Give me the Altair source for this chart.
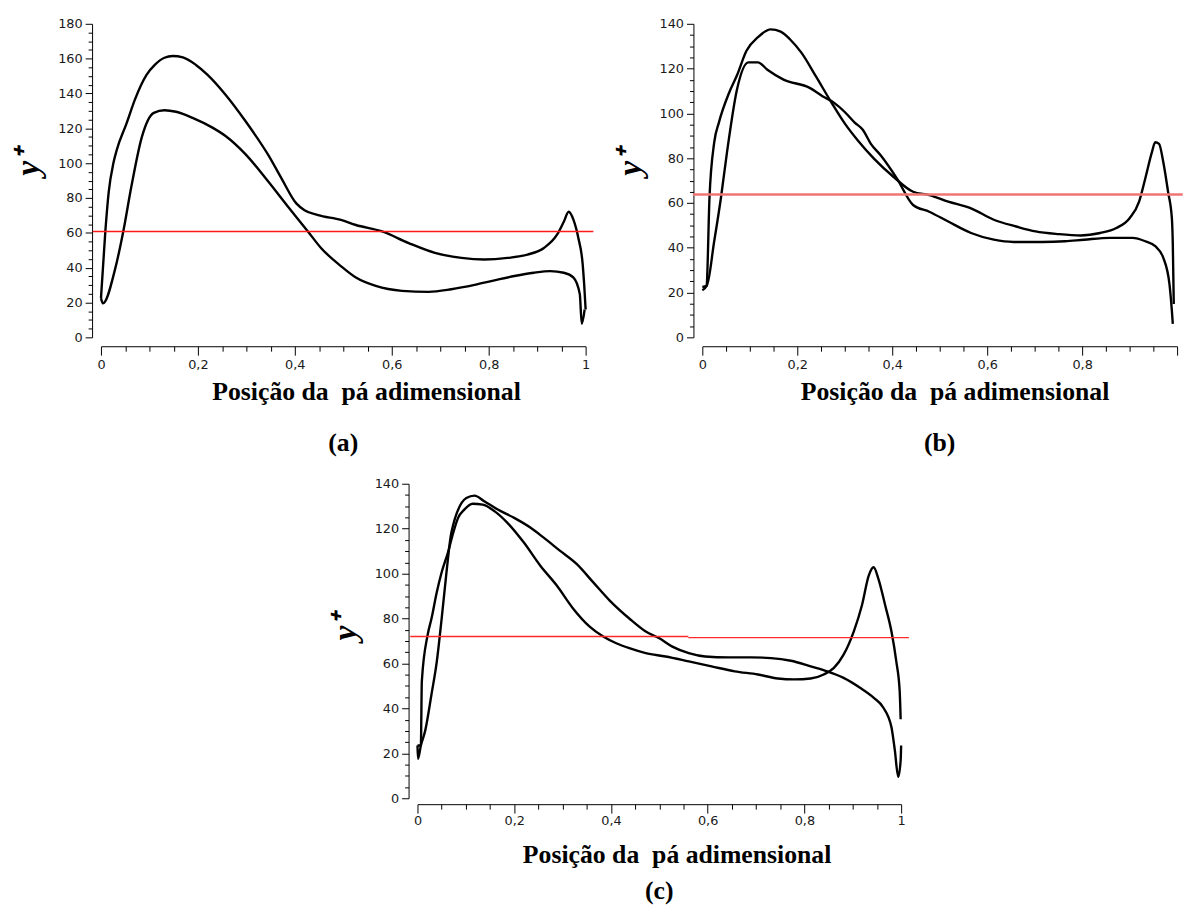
import altair as alt
import pandas as pd

# ---------------- panel (a) ----------------
a_s1_x = [0.000, 0.009, 0.016, 0.026, 0.033, 0.053, 0.070, 0.094, 0.111, 0.131,
          0.148, 0.169, 0.196, 0.220, 0.257, 0.298, 0.346, 0.373, 0.403, 0.420,
          0.448, 0.495, 0.526, 0.580, 0.635, 0.689, 0.744, 0.791, 0.839, 0.880,
          0.914, 0.941, 0.955, 0.965, 0.975, 0.985, 0.994, 0.997, 1.000]
a_s1_y = [22.5, 60.8, 83.5, 100.5, 108, 123, 136.5, 150.7, 156.4, 160.5,
          161.5, 160.7, 156.4, 150.7, 139.3, 124.2, 104.3, 91, 76.9, 73,
          70.2, 67.4, 64.5, 60.8, 54.1, 48.5, 45.6, 44.7, 45.6, 47.5,
          51.3, 58.9, 66.4, 72.1, 67.4, 57, 41.8, 30.5, 16]
a_s2_x = [0.000, 0.004, 0.029, 0.046, 0.063, 0.084, 0.109, 0.131, 0.155, 0.189,
          0.230, 0.257, 0.298, 0.346, 0.386, 0.427, 0.454, 0.495, 0.526, 0.567,
          0.621, 0.676, 0.723, 0.771, 0.812, 0.853, 0.893, 0.927, 0.955, 0.975,
          0.988, 0.992, 0.998]
a_s2_y = [22.5, 19.5, 39, 60.8, 87, 114.7, 128.9, 130.4, 129.5, 126,
          120.4, 115.6, 105.2, 89.2, 75, 60.8, 51.3, 40.9, 34.3, 29.5,
          26.7, 26.1, 27.6, 30.1, 32.7, 35.2, 37.1, 38, 37.1, 34.3,
          24.8, 7.8, 16]
a_red_x0 = [-0.017]
a_red_x1 = [1.016]
a_red_y = [60.8]

# ---------------- panel (b) ----------------
b_s1_x = [0.000, 0.009, 0.015, 0.025, 0.035, 0.056, 0.073, 0.093, 0.117, 0.144,
          0.165, 0.185, 0.209, 0.239, 0.273, 0.301, 0.328, 0.362, 0.403, 0.444,
          0.478, 0.518, 0.566, 0.614, 0.661, 0.702, 0.750, 0.797, 0.838, 0.872,
          0.900, 0.920, 0.933, 0.947, 0.954, 0.962, 0.971, 0.981, 0.989, 0.991,
          0.993]
b_s1_y = [21, 23, 62, 87, 96, 109, 117, 128, 134, 137.5,
          136.5, 133, 127, 116.6, 104.5, 95.2, 87.8, 79.7, 71.6, 65,
          63.5, 60.6, 57.6, 52.5, 49.5, 47.3, 46.1, 45.5, 46.6, 48.8,
          53.2, 60.6, 70.9, 82.7, 87.1, 86.4, 78.2, 65, 53.2, 41.4,
          14.9]
b_s2_x = [0.000, 0.009, 0.025, 0.039, 0.052, 0.073, 0.097, 0.117, 0.137, 0.171,
          0.226, 0.253, 0.277, 0.301, 0.321, 0.338, 0.355, 0.376, 0.410, 0.444,
          0.478, 0.518, 0.566, 0.614, 0.655, 0.716, 0.764, 0.804, 0.859, 0.906,
          0.933, 0.954, 0.971, 0.984, 0.989, 0.991]
b_s2_y = [22.5, 23, 42.9, 62, 82.7, 110.7, 122.8, 122.8, 119.5, 115.1,
          111.4, 107.7, 104.8, 100.4, 95.9, 92.7, 86.4, 81.2, 70.9, 59.1,
          56.1, 51.7, 46.6, 43.6, 42.6, 42.6, 42.9, 43.6, 44.4, 44.4,
          42.9, 40.7, 35.5, 23.7, 11.9, 6]
b_red_x0 = [-0.02]
b_red_x1 = [1.012]
b_red_y = [63.8]

# ---------------- panel (c) ----------------
c_s1_x = [0.000, 0.001, 0.007, 0.016, 0.029, 0.040, 0.050, 0.060, 0.070, 0.101,
          0.118, 0.138, 0.166, 0.200, 0.234, 0.261, 0.295, 0.329, 0.363, 0.397,
          0.438, 0.472, 0.500, 0.527, 0.561, 0.595, 0.643, 0.690, 0.731, 0.772,
          0.813, 0.847, 0.881, 0.915, 0.943, 0.963, 0.980, 0.987, 0.994, 0.999,
          1.000]
c_s1_y = [23.5, 17.6, 23.5, 30.1, 46.3, 60.9, 80, 100.6, 118.2, 133.6,
          134.7, 132.2, 128.5, 124.8, 120.4, 116, 110.1, 104.3, 96.2, 88.1,
          80, 74.2, 71.2, 67.5, 64.6, 63.1, 62.7, 62.7, 62.4, 61.2,
          58.7, 56.5, 53.6, 49.2, 44.8, 40.4, 31.6, 21.3, 9.5, 16.9,
          23.5]
c_s2_x = [0.000, 0.007, 0.009, 0.021, 0.029, 0.040, 0.050, 0.063, 0.074, 0.084,
          0.097, 0.114, 0.135, 0.159, 0.186, 0.220, 0.254, 0.288, 0.322, 0.356,
          0.384, 0.411, 0.438, 0.472, 0.513, 0.561, 0.608, 0.656, 0.704, 0.745,
          0.779, 0.813, 0.840, 0.861, 0.881, 0.902, 0.919, 0.933, 0.943, 0.953,
          0.967, 0.980, 0.990, 0.997, 0.999]
c_s2_y = [23.5, 23.5, 52.1, 72.7, 80, 91.8, 100.6, 109.4, 118.2, 124.8,
          128.5, 131.1, 130.7, 127.8, 122.6, 113.8, 103.5, 94.7, 84.4, 76.4,
          72, 69, 66.8, 64.6, 63.1, 60.9, 58.7, 56.5, 55.1, 53.3,
          52.9, 53.3, 55.1, 58, 63.9, 74.2, 85.9, 99.1, 102.8, 97.7,
          85.9, 74.2, 60.9, 47.7, 35.2]
c_red_x0 = [-0.015, 0.56]
c_red_x1 = [0.56, 1.016]
c_red_y = [72.0, 71.5]

X_TITLE = "Posição da\u00a0 pá adimensional"
Y_TITLE = "y\u207a"
TXT = "#1a1a1a"


def panel(s1x, s1y, s2x, s2y, rx0, rx1, ry, ymax, w, h, label, title_x, ytitle_y,
          label_offset, x_off, lab_pad, tit_pad, red_color, red_width, hide_last=False):
    rows = []
    for name, xs, ys in (("s1", s1x, s1y), ("s2", s2x, s2y)):
        for i, (xv, yv) in enumerate(zip(xs, ys)):
            rows.append({"s": name, "i": i, "x": xv, "y": yv})
    df = pd.DataFrame(rows)
    red = pd.DataFrame({"x": rx0, "x1": rx1, "y": ry})

    xvals = [round(k * 0.05, 2) for k in range(21)]
    yvals = list(range(0, ymax + 1, 5))
    major_x = "abs(datum.value*5 - round(datum.value*5)) < 0.001"
    if hide_last:
        lab_x = f"({major_x}) && datum.value < 0.99 ? replace(format(datum.value, '.1~f'), '.', ',') : ''"
    else:
        lab_x = f"({major_x}) ? replace(format(datum.value, '.1~f'), '.', ',') : ''"

    xscale = alt.Scale(domain=[0, 1], nice=False, zero=False)
    yscale = alt.Scale(domain=[0, ymax], nice=False)

    xaxis = alt.Axis(values=xvals, labelExpr=lab_x,
                     tickSize={"condition": {"test": major_x, "value": 9}, "value": 5},
                     offset=x_off, labelPadding=lab_pad, labelFlush=False, labelOverlap=False,
                     grid=False, domainColor="black", tickColor="black",
                     labelColor=TXT, labelFont="DejaVu Sans", labelFontSize=13,
                     title=X_TITLE, titleFont="Liberation Serif", titleFontSize=26,
                     titleFontWeight="bold", titleColor="black", titlePadding=tit_pad,
                     titleX=title_x)
    yaxis = alt.Axis(values=yvals, labelExpr="datum.value % 20 === 0 ? datum.label : ''",
                     tickSize={"condition": {"test": "datum.value % 20 === 0", "value": 7}, "value": 4},
                     offset=9, labelPadding=3, labelOverlap=False,
                     grid=False, domainColor="black", tickColor="black",
                     labelColor=TXT, labelFont="DejaVu Sans", labelFontSize=13,
                     title=Y_TITLE, titleFont="Liberation Serif", titleFontSize=34,
                     titleFontStyle="italic", titleFontWeight="bold", titleColor="black",
                     titleAngle=270, titlePadding=12, titleY=ytitle_y)

    lines = alt.Chart(df).mark_line(color="black", strokeWidth=2.4,
                                    interpolate="monotone").encode(
        x=alt.X("x:Q", scale=xscale, axis=xaxis),
        y=alt.Y("y:Q", scale=yscale, axis=yaxis),
        detail="s:N",
        order="i:Q",
    )
    rule = alt.Chart(red).mark_rule(color=red_color, strokeWidth=red_width, clip=False).encode(
        x=alt.X("x:Q", scale=xscale, axis=xaxis),
        x2="x1:Q",
        y=alt.Y("y:Q", scale=yscale, axis=yaxis),
    )
    return alt.layer(lines, rule).properties(
        width=w, height=h,
        title=alt.TitleParams(label, orient="bottom", font="Liberation Serif", fontSize=26,
                              fontWeight="bold", color="black", offset=label_offset,
                              anchor="middle", frame="group"),
    )


pa = panel(a_s1_x, a_s1_y, a_s2_x, a_s2_y, a_red_x0, a_red_x1, a_red_y, 180, 490, 317,
           "(a)", 268, 140, 26, 9, 4, 7, "#ff1a1a", 1.4)
pb = panel(b_s1_x, b_s1_y, b_s2_x, b_s2_y, b_red_x0, b_red_x1, b_red_y, 140, 480, 317,
           "(b)", 255, 140, 26, 9, 4, 7, "#f07474", 2.4, hide_last=True)
pc = panel(c_s1_x, c_s1_y, c_s2_x, c_s2_y, c_red_x0, c_red_x1, c_red_y, 140, 489, 318,
           "(c)", 262, 145, 11, 6, 2, 14, "#ff2a2a", 1.4)

spacer = alt.Chart(pd.DataFrame({"v": [0]})).mark_point(opacity=0).encode(
    x=alt.X("v:Q", axis=None), y=alt.Y("v:Q", axis=None)
).properties(width=228, height=10)

row1 = alt.hconcat(pa, pb, spacing=17)
row2 = alt.hconcat(spacer, pc, spacing=0)

chart = alt.vconcat(row1, row2, spacing=20).properties(
    padding={"left": 3, "top": 4, "right": 0, "bottom": 0}
).configure(background="white").configure_view(stroke="transparent")

chart.save("out.html", embed_options={"renderer": "svg", "actions": False})
